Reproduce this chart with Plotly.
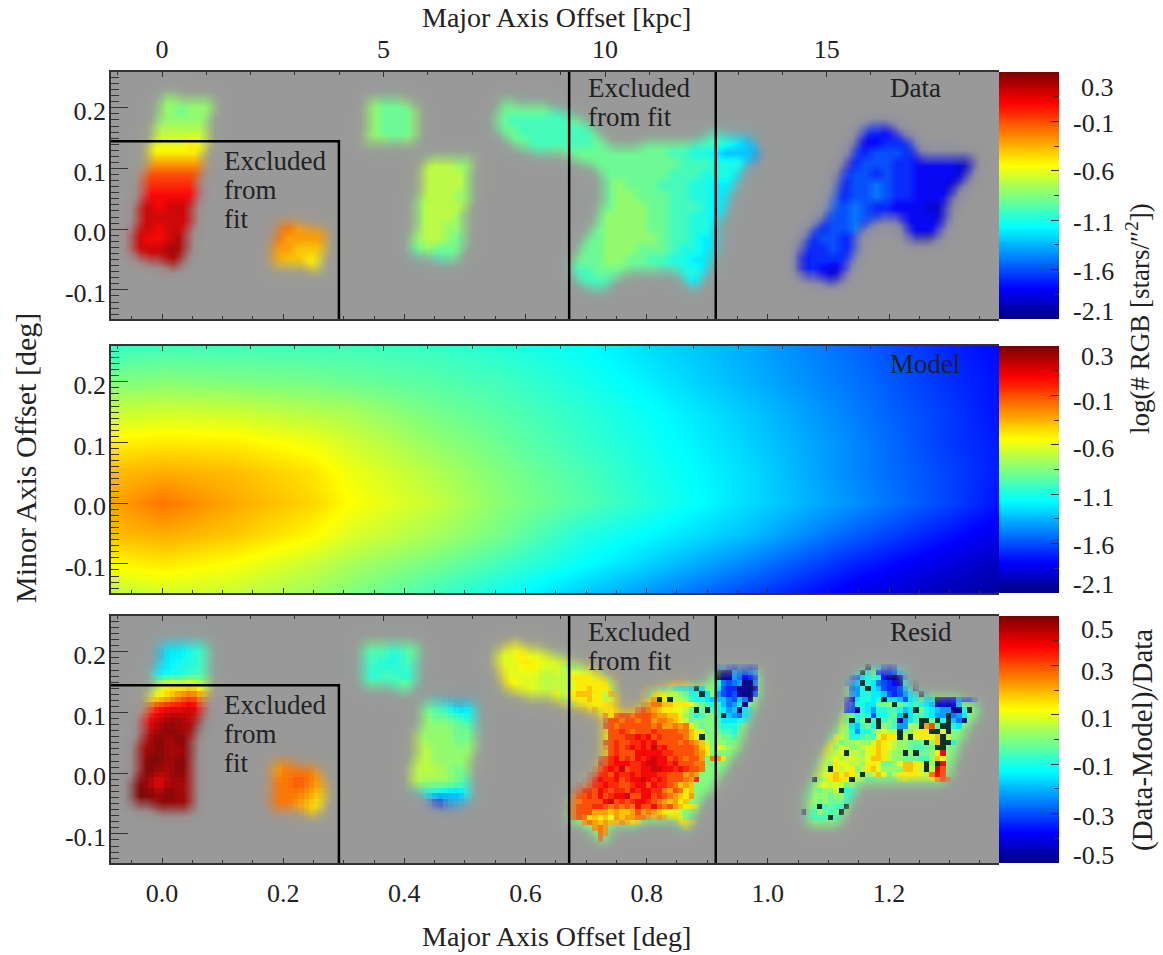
import numpy as np
import plotly.graph_objects as go

W, H = 1163, 955
FONT = "Liberation Serif"
TXT = "#222222"
GREY = "#999999"
JET = [[0, "#00007f"], [0.125, "#0000ff"], [0.375, "#00ffff"], [0.625, "#ffff00"], [0.875, "#ff0000"], [1, "#7f0000"]]
NOISE_DARK = "#062b26"

X_RANGE = [-0.0842, 1.3815]
Y_RANGE = [-0.148, 0.259]
KPC_RANGE = [-1.151, 18.89]
DATA_RANGE = [-2.1, 0.4]
RESID_RANGE = [-0.5, 0.5]
LETTERS = "abcdefghijklmnopqrstuvwxyz"
NCOL, NROW = 83, 23
NCOL_F, NROW_F = 166, 46

DATA_ROWS = [
    "", "",
    "5:nnnn 24:nmmn 37:mmmm",
    "4:nnmnnn 24:nmmmn 36:mmmmmll",
    "4:nnnnnn 24:nmmmn 36:mllllllm",
    "4:ooooo 24:nmmmn 36:mmlllllllm 70:eedd",
    "4:pppqp 24:nnmn 37:mmllllllmm 51:mmmlllkjii 70:ddeee",
    "3:qqqqqq 29:nnnnn 41:mmmmmmm 49:mmmllkkjiiih 69:eefffed",
    "3:ssssss 29:ooonn 44:mmmmmmmmmlllkkkih 68:defffeeddddcc",
    "3:uuuuuu 29:oooon 46:mmmmmmlllkkkj 68:effefeeddddc",
    "3:vvvvv 29:oooon 46:mnmmmlllkkjj 68:effgfeedddcc",
    "3:wwwww 28:nooonn 46:mnnmmmllkkjj 67:feffgfeedddc",
    "2:xxwxxx 28:noooo 46:mnnnmmlllkj 67:ffgfeedddcc",
    "2:xxxxxx 28:nooonn 45:mnnnnmmllkkj 66:effgfe 74:dddc",
    "2:xxwxxx 15:ttsss 28:noonn 44:mmnnnnmmllkkj 66:effge 74:dddd",
    "2:xwwxyx 15:tssss 28:noonm 44:mmnnnnnmllkjj 65:effee 75:cb",
    "2:xxxyy 15:ssrrr 27:mmnmm 43:mmmnnnmmmlkkjj 65:eefee",
    "16:rrqq 27:llml 42:lmmmnnmmllkkjj 64:deeee",
    "42:lllmmmm 50:mllkkj 64:dedcd",
    "43:llll 52:kkj",
    "53:kk",
    "", "",
]

RESID_ROWS = [
    "", "",
    "5:jjkkl 24:mmlm 37:qppp",
    "4:ijjkll 24:llklm 36:ppqppoo",
    "4:jjkkll 24:lkkll 36:ppqqpppo",
    "4:jkkll 24:kllkl 36:qpppooppqr",
    "4:oqpqo 24:mllm 37:qppoopqqrr",
    "3:pqrtus 29:lkiii 41:pqqrrrq",
    "3:uvwwxv 29:mlkij 44:rqqr",
    "3:wxyyxy 29:nmmlk",
    "3:xyzyyz 29:nnnmm",
    "3:yzyzy 28:onnnm",
    "3:yzyyz 28:oonnnn",
    "2:yzzyzy 28:oonnnn",
    "2:yzyyzy 15:sttts 28:ooonm",
    "2:zywyyy 15:ttuts 27:oonnnm",
    "2:zzyzy 15:tttsr 27:mlkjii",
    "16:tsrq 28:igdh",
    "", "", "", "", "",
]

# finer reading of the two noisy regions of the residual map: (first row, first col, rows)
RESID_FINE = [
    (8, 84, [
        "", "0:onnoopp 29:ghfegfee", "0:ooppppqpn 29:#aahgfgh", "0:ooqqqqpqqo 29:#bbhgdef",
        "0:oopqqqqqqop 29:kgfghaag", "0:oopqqrqqqqn 17:nomnlkkj#j 29:jfeeabab",
        "0:oqqrrrqqo 16:mqqpoonmkk#j 29:hfefbaaf", "0:ooqqqrqqop 17:s#q#oonlkkji 29:iigfiga",
        "2:oqqqqq 15:ssttrrqqqpnmlkj 29:kighja", "5:qrq 13:rtutsrqqppom#m#l 29:kjhiajk",
        "7:qs 10:tuutuuutssrrqnmkl 29:k#ihgjk", "8:tuutuutuusttsrqom 29:ljjjkkl",
        "8:uutuuuuuutusststqnm 29:lkkkl", "9:uuvutuuuvuuuuttrqpm 29:mllkm",
        "8:quuuvvwvwuvuuuutrq#n 29:nmml", "8:uuvuuvvwvwuuuututsro 29:nnm",
        "8:suvuvwvwvxvwuuuuutrq 29:ponn", "8:ruvuuuwwwwwvvuuuutsq",
        "7:uuvwuvuwvwxwwuvutuus 28:tsq", "7:vuvwwwvvwxxwwvwuuutt",
        "6:tuvwvxuvvwwxxwwvwvuut", "5:uuvvuwvvwvwwwvvuuusts",
        "4:tuvwvvwuvwwxwvwvuuutsv", "2:tutuvvwvvuuvwwuwvvutrsr",
        "2:uuvvuwvuvvuwvwwvvtsutqr", "2:tuuvuwuvwwxuuwwuvutsrqs",
        "1:rttuuuuwxuvuvwwvutsrsqr", "1:stuuuvvutututwuuwutusrqqp",
        "1:stuuusssrsrrsustsrqpqo", "2:tutqrqrpsrssttsrsrpqpn",
        "4:stsrsrrsrqq 22:qqpq", "6:sts 23:po", "7:ts", "7:t",
    ]),
    (9, 125, [
        "15:l#ljfefk", "13:jk#kmfeefij", "12:jfgjklkdbabhkl", "12:hhi#kjgfedbkj#",
        "13:ghk#jifeefik#l", "13:hhkkjjifefhjk#k", "12:ecjkkjk#jjifjkmjj#ccdhfeg",
        "12:dfkkjjmmn#mlklkjibdbdi", "12:efakjhkkllkij#mkjihhaak#", "11:onmklkfkklmi#jllkjhh#ghj",
        "11:om#km#l#lmlahjl##m#k#iga", "11:onjilmk#nmlhhon#sum##kj", "11:onkhkkmopoo#nnpqq##p#",
        "10:ponkklmlprqq#o#pqqpr#o", "8:opomnnonnprqponnmmm#nr##k", "8:ppnponnopqrqponnmllmm##",
        "7:opoop#oonpqrqonn#n#mmnqw", "7:noopoopooprrqonnmmmllnrp", "6:moonqppoonqqpmmnprrqp#n#w",
        "6:noo#qopqnoqrpnnnnrrqo#oxu", "6:oopqrqrqo#norpmoqqqqpotwu", "6:#noqrqq#onmm 22:opoooopsut",
        "5:mnopopomnm", "5:mnmnno#klm", "5:mnnnmnnll", "5:nnmnmmmll",
        "4:mnm#lmll#", "4:#mlnmlm#", "4:lmlll#lm",
    ]),
]

# outlines of the observed fields, in pixels of the panel (x from figure left, y from panel top)
DATA_OUTLINES = [
    [(163, 23), (213, 28), (202, 88), (192, 138), (182, 191), (168, 191), (130, 183), (150, 75), (157, 45)],
    [(275, 148), (327, 158), (320, 198), (273, 191)],
    [(367, 25), (417, 31), (413, 73), (365, 68)],
    [(425, 85), (473, 86), (460, 191), (410, 180)],
    [(500, 28), (560, 36), (590, 53), (612, 78), (640, 75), (648, 68), (700, 68), (712, 60), (755, 68), (757, 83),
     (745, 93), (730, 123), (717, 153), (712, 190), (695, 215), (675, 200), (640, 198), (617, 203), (602, 218),
     (583, 215), (570, 196), (583, 171), (598, 148), (603, 118), (600, 98), (565, 83), (515, 76), (497, 58)],
    [(865, 51), (890, 53), (896, 58), (914, 75), (920, 86), (973, 88), (965, 106), (950, 121), (946, 138), (942, 155),
     (931, 169), (915, 168), (906, 161), (904, 145), (877, 145), (858, 161), (854, 175), (843, 201), (835, 208),
     (801, 205), (798, 190), (805, 168), (824, 148), (835, 121), (847, 88), (862, 63)],
]
RESID_OUTLINES = [
    [(157, 24), (210, 26), (207, 71), (203, 87), (193, 121), (192, 161), (190, 191), (167, 194), (132, 186),
     (137, 144), (145, 97), (152, 71), (157, 47)],
    [(272, 144), (317, 151), (327, 171), (320, 197), (273, 194)],
    [(365, 26), (420, 30), (412, 74), (365, 70)],
    [(423, 84), (475, 86), (470, 181), (453, 191), (433, 187), (410, 167)],
    [(497, 35), (515, 27), (560, 40), (610, 61), (620, 97), (645, 90), (647, 74), (677, 71), (707, 67), (717, 54),
     (757, 54), (757, 81), (747, 107), (737, 134), (717, 164), (700, 187), (687, 214), (673, 204), (610, 209),
     (607, 224), (597, 227), (593, 214), (568, 204), (570, 181), (593, 164), (603, 137), (605, 101), (560, 84),
     (533, 81), (500, 70)],
    [(863, 54), (900, 54), (903, 64), (913, 81), (977, 84), (977, 101), (967, 111), (957, 134), (947, 167), (860, 167),
     (847, 191), (840, 207), (807, 207), (805, 181), (813, 164), (823, 137), (840, 107), (847, 91), (847, 67)],
]

MODEL_X = [-0.084, 0.002, 0.117, 0.249, 0.31, 0.447, 0.558, 0.69, 0.805, 0.97, 1.135, 1.30, 1.381]
MODEL_Y = [0.259, 0.2, 0.151, 0.1, 0.052, 0.0, -0.052, -0.101, -0.148]
# model level as a fraction of the colour range
MODEL_LEVEL = [
    [.43, .44, .44, .44, .44, .43, .41, .38, .34, .29, .23, .16, .13],
    [.50, .51, .50, .49, .48, .46, .44, .40, .36, .30, .24, .17, .14],
    [.57, .58, .575, .55, .54, .49, .46, .42, .38, .32, .25, .18, .14],
    [.635, .645, .64, .61, .58, .52, .48, .43, .39, .33, .26, .18, .15],
    [.69, .705, .69, .65, .61, .55, .50, .45, .40, .34, .26, .19, .15],
    [.715, .76, .71, .665, .625, .57, .51, .46, .41, .34, .27, .19, .14],
    [.69, .705, .68, .63, .59, .54, .49, .41, .37, .31, .22, .14, .10],
    [.63, .645, .62, .57, .54, .49, .44, .38, .33, .25, .16, .09, .06],
    [.56, .58, .57, .53, .50, .44, .39, .325, .27, .19, .11, .05, .03],
]

EXCL_BOX_X = [-0.0842, 0.292, 0.292]
EXCL_BOX_Y = [0.145, 0.145, -0.148]
EXCL_LINES_X = [0.672, 0.914]

DATA_LABELS = ["0.3", "-0.1", "-0.6", "-1.1", "-1.6", "-2.1"]
DATA_LABEL_POS_1 = [0.248, -0.117, -0.61, -1.128, -1.624, -2.02]
DATA_LABEL_POS_2 = [0.289, -0.157, -0.642, -1.138, -1.624, -2.01]
RESID_LABELS = ["0.5", "0.3", "0.1", "-0.1", "-0.3", "-0.5"]
RESID_LABEL_POS = [0.447, 0.277, 0.087, -0.111, -0.31, -0.468]
Y_TICKS = [-0.1, 0.0, 0.1, 0.2]
Y_TICK_TEXT = ["-0.1", "0.0", "0.1", "0.2"]
DEG_TICKS = [0.0, 0.2, 0.4, 0.6, 0.8, 1.0, 1.2]
DEG_TICK_TEXT = ["0.0", "0.2", "0.4", "0.6", "0.8", "1.0", "1.2"]

PANELS_PX = [(72, 319), (346, 593), (616, 863)]
PLOT_X_PX = (111, 999)
CB_X_PX = (999, 1059)
PANEL_H = 247.0


def decode(rows):
    g = np.full((NROW, NCOL), np.nan)
    for r, row in enumerate(rows):
        for tok in row.split():
            c, s = tok.split(":")
            for i, ch in enumerate(s):
                g[r, min(int(c) + i, NCOL - 1)] = LETTERS.index(ch) / 25.0
    return g


def fill_under(g):
    f = g.copy()
    for _ in range(6):
        new = f.copy()
        for r in range(NROW):
            for c in range(NCOL):
                if np.isnan(f[r, c]):
                    nb = f[max(r - 1, 0):r + 2, max(c - 1, 0):c + 2]
                    if np.any(~np.isnan(nb)):
                        new[r, c] = np.nanmean(nb)
        f = new
    f[np.isnan(f)] = 0.5
    return f


def upsample(f):
    xc = (np.arange(NCOL) + 0.5) / NCOL
    yc = (np.arange(NROW) + 0.5) / NROW
    xf = (np.arange(NCOL_F) + 0.5) / NCOL_F
    yf = (np.arange(NROW_F) + 0.5) / NROW_F
    a = np.array([np.interp(xf, xc, row) for row in f])
    return np.array([np.interp(yf, yc, a[:, j]) for j in range(NCOL_F)]).T


def box(c):
    p = np.pad(c, 1, mode="edge")
    return sum(p[1 + i:NROW_F + 1 + i, 1 + j:NCOL_F + 1 + j] for i in (-1, 0, 1) for j in (-1, 0, 1)) / 9.0


def coverage(outlines):
    xs = PLOT_X_PX[0] + (np.arange(NCOL_F) + 0.5) * (PLOT_X_PX[1] - PLOT_X_PX[0]) / NCOL_F
    ys = (np.arange(NROW_F) + 0.5) * PANEL_H / NROW_F
    px, py = np.meshgrid(xs, ys)
    cov = np.zeros_like(px, dtype=bool)
    for poly in outlines:
        inside = np.zeros_like(cov)
        n = len(poly)
        for i in range(n):
            x0, y0 = poly[i]
            x1, y1 = poly[(i + 1) % n]
            if y0 == y1:
                continue
            inside ^= ((y0 > py) != (y1 > py)) & (px < x0 + (py - y0) * (x1 - x0) / (y1 - y0))
        cov |= inside
    sharp = box(cov.astype(float))
    wide = sharp
    for _ in range(4):
        wide = box(wide)
    return np.maximum(sharp * 0.95, 0.3 * wide)


dx = (X_RANGE[1] - X_RANGE[0]) / NCOL
dy = (Y_RANGE[1] - Y_RANGE[0]) / NROW
cell_x = [X_RANGE[0] + (i + 0.5) * dx for i in range(NCOL)]
cell_y = [Y_RANGE[1] - (i + 0.5) * dy for i in range(NROW)]
dxf = (X_RANGE[1] - X_RANGE[0]) / NCOL_F
dyf = (Y_RANGE[1] - Y_RANGE[0]) / NROW_F
fine_x = [X_RANGE[0] + (i + 0.5) * dxf for i in range(NCOL_F)]
fine_y = [Y_RANGE[1] - (i + 0.5) * dyf for i in range(NROW_F)]

fig = go.Figure()


def px_dom_y(t, b):
    return [1 - b / H, 1 - t / H]


def add_overlays(outlines, n):
    mask = 1 - coverage(outlines)
    fig.add_trace(go.Heatmap(x=fine_x, y=fine_y, z=mask.tolist(), zmin=0, zmax=1, showscale=False, zsmooth="best",
                             colorscale=[[0, "rgba(153,153,153,0)"], [1, "rgba(153,153,153,1)"]],
                             hoverinfo="skip", xaxis=f"x{n}", yaxis=f"y{n}"))
    fig.add_trace(go.Scatter(x=EXCL_BOX_X, y=EXCL_BOX_Y, mode="lines", line=dict(color="black", width=2.5),
                             hoverinfo="skip", showlegend=False, xaxis=f"x{n}", yaxis=f"y{n}"))
    for lx in EXCL_LINES_X:
        fig.add_trace(go.Scatter(x=[lx, lx], y=Y_RANGE, mode="lines", line=dict(color="black", width=2.5),
                                 hoverinfo="skip", showlegend=False, xaxis=f"x{n}", yaxis=f"y{n}"))


# data panel
d_level = fill_under(decode(DATA_ROWS))
d_vals = DATA_RANGE[0] + (DATA_RANGE[1] - DATA_RANGE[0]) * d_level
fig.add_trace(go.Heatmap(x=cell_x, y=cell_y, z=d_vals.tolist(), colorscale=JET, zmin=DATA_RANGE[0], zmax=DATA_RANGE[1],
                         showscale=False, zsmooth="best", hoverinfo="skip", xaxis="x1", yaxis="y1"))
add_overlays(DATA_OUTLINES, 1)

# model panel
model_z = (DATA_RANGE[0] + (DATA_RANGE[1] - DATA_RANGE[0]) * np.array(MODEL_LEVEL)).tolist()
fig.add_trace(go.Heatmap(x=MODEL_X, y=MODEL_Y, z=model_z, colorscale=JET, zmin=DATA_RANGE[0], zmax=DATA_RANGE[1],
                         showscale=False, zsmooth="best", hoverinfo="skip", xaxis="x2", yaxis="y2"))

# residual panel: level below zero marks the near-black noisy cells
r_level = upsample(fill_under(decode(RESID_ROWS)))
for r0, c0, rows in RESID_FINE:
    for i, row in enumerate(rows):
        for tok in row.split():
            c, s = tok.split(":")
            for j, ch in enumerate(s):
                rr, cc = r0 + i, c0 + int(c) + j
                if rr >= NROW_F or cc >= NCOL_F:
                    continue
                if ch in LETTERS:
                    r_level[rr, cc] = LETTERS.index(ch) / 25.0
                elif ch == "#":
                    r_level[rr, cc] = -1 / 24.0
span = RESID_RANGE[1] - RESID_RANGE[0]
r_vals = RESID_RANGE[0] + span * r_level
r_zmin = RESID_RANGE[0] - span / 24.0
edge = (1 / 24.0) / (25 / 24.0)
JET_DARK = [[0, NOISE_DARK], [edge * 0.98, NOISE_DARK]] + [[edge + (1 - edge) * p, c] for p, c in JET]
fig.add_trace(go.Heatmap(x=fine_x, y=fine_y, z=r_vals.tolist(), colorscale=JET_DARK, zmin=r_zmin, zmax=RESID_RANGE[1],
                         showscale=False, zsmooth=False, hoverinfo="skip", xaxis="x3", yaxis="y3"))
add_overlays(RESID_OUTLINES, 3)

# kpc axes on top of each panel
for n in (1, 2, 3):
    fig.add_trace(go.Scatter(x=KPC_RANGE, y=[0, 0], mode="markers", marker=dict(opacity=0, size=1), hoverinfo="skip",
                             showlegend=False, xaxis=f"x{n + 3}", yaxis=f"y{n}"))

# colour bars
for n, rng in ((7, DATA_RANGE), (8, DATA_RANGE), (9, RESID_RANGE)):
    lv = np.linspace(rng[0], rng[1], 256)
    fig.add_trace(go.Heatmap(x=[0, 1], y=lv.tolist(), z=[[a, a] for a in lv], colorscale=JET, zmin=rng[0], zmax=rng[1],
                             showscale=False, zsmooth="best", hoverinfo="skip", xaxis=f"x{n}", yaxis=f"y{n}"))

tickfont = dict(family=FONT, size=26, color=TXT)
dom_x = [PLOT_X_PX[0] / W, PLOT_X_PX[1] / W]
dom_cb = [CB_X_PX[0] / W, CB_X_PX[1] / W]
layout = dict(width=W, height=H, margin=dict(l=0, r=0, t=0, b=0), paper_bgcolor="white", plot_bgcolor=GREY,
              showlegend=False, font=dict(family=FONT, color=TXT, size=26))
AX = "#333333"
for i, (t, b) in enumerate(PANELS_PX):
    n = i + 1
    d = px_dom_y(t, b)
    layout[f"xaxis{n}"] = dict(domain=dom_x, range=X_RANGE, anchor=f"y{n}", side="bottom", tickmode="array", tickvals=DEG_TICKS,
                               ticktext=DEG_TICK_TEXT, ticks="inside", ticklen=5, tickcolor=AX, showgrid=False, zeroline=False,
                               showticklabels=n == 3, tickfont=tickfont, ticklabelstandoff=6, showline=True, linecolor=AX,
                               linewidth=1.5, minor=dict(tick0=0, dtick=0.05, ticks="inside", ticklen=3, tickcolor=AX, showgrid=False))
    layout[f"yaxis{n}"] = dict(domain=d, range=Y_RANGE, anchor=f"x{n}", tickmode="array", tickvals=Y_TICKS, ticktext=Y_TICK_TEXT,
                               ticks="inside", ticklen=17, tickcolor=AX, showgrid=False, zeroline=False, tickfont=tickfont,
                               showline=True, linecolor=AX, linewidth=1.5, ticklabelstandoff=-2, ticklabelshift=3,
                               minor=dict(tick0=0, dtick=0.01, ticks="inside", ticklen=8, tickcolor=AX, showgrid=False))
    layout[f"xaxis{n + 3}"] = dict(domain=dom_x, range=KPC_RANGE, anchor=f"y{n}", overlaying=f"x{n}", side="top", tick0=0, dtick=5,
                                   ticks="inside", ticklen=5, tickcolor=AX, showgrid=False, zeroline=False, ticklabelstandoff=2,
                                   showticklabels=n == 1, tickfont=tickfont, showline=True, linecolor=AX, linewidth=1.5,
                                   minor=dict(tick0=0, dtick=1, ticks="inside", ticklen=3, tickcolor=AX, showgrid=False))
    rng = RESID_RANGE if n == 3 else DATA_RANGE
    major = 0.2 if n == 3 else 0.5
    layout[f"xaxis{n + 6}"] = dict(domain=dom_cb, range=[0, 1], anchor=f"y{n + 6}", visible=False)
    layout[f"yaxis{n + 6}"] = dict(domain=d, range=rng, anchor=f"x{n + 6}", side="right", tick0=rng[0], dtick=major, ticks="inside",
                                   ticklen=8, tickcolor=AX, showgrid=False, zeroline=False, showticklabels=False,
                                   minor=dict(tick0=rng[0], dtick=major / 2, ticks="inside", ticklen=5, tickcolor=AX, showgrid=False))
fig.update_layout(**layout)


def note(text, x, y, n):
    fig.add_annotation(text=text, x=x, y=y, xref=f"x{n}", yref=f"y{n}", xanchor="left", yanchor="middle", showarrow=False,
                       font=dict(family=FONT, size=27, color=TXT))


def px_note(text, px, py, angle=0, size=28):
    fig.add_annotation(text=text, x=px / W, y=1 - py / H, xref="paper", yref="paper", xanchor="center", yanchor="middle",
                       showarrow=False, textangle=angle, font=dict(family=FONT, size=size, color=TXT))


for n, label in ((1, "Data"), (3, "Resid")):
    note("Excluded", 0.099, 0.113, n)
    note("from", 0.099, 0.065, n)
    note("fit", 0.099, 0.017, n)
    note("Excluded", 0.70, 0.233, n)
    note("from fit", 0.70, 0.185, n)
    note(label, 1.198, 0.233, n)
note("Model", 1.198, 0.229, 2)

for labels, pos, n in ((DATA_LABELS, DATA_LABEL_POS_1, 7), (DATA_LABELS, DATA_LABEL_POS_2, 8), (RESID_LABELS, RESID_LABEL_POS, 9)):
    for s, p in zip(labels, pos):
        fig.add_annotation(text=s, x=1116 / W, y=p, xref="paper", yref=f"y{n}", xanchor="right", yanchor="middle", showarrow=False,
                           font=dict(family=FONT, size=26, color=TXT))

px_note("Major Axis Offset [kpc]", 556, 18)
px_note("Major Axis Offset [deg]", 556, 936)
px_note("Minor Axis Offset [deg]", 25, 458, angle=-90, size=30)
px_note("log(# RGB [stars/\u2033<sup>2</sup>])", 1138, 319, angle=-90, size=27)
px_note("(Data-Model)/Data", 1142, 740, angle=-90, size=29)

fig.write_html("out.html", config={"displayModeBar": False},
               post_script="document.body.style.margin='0';document.body.style.overflow='hidden';")
